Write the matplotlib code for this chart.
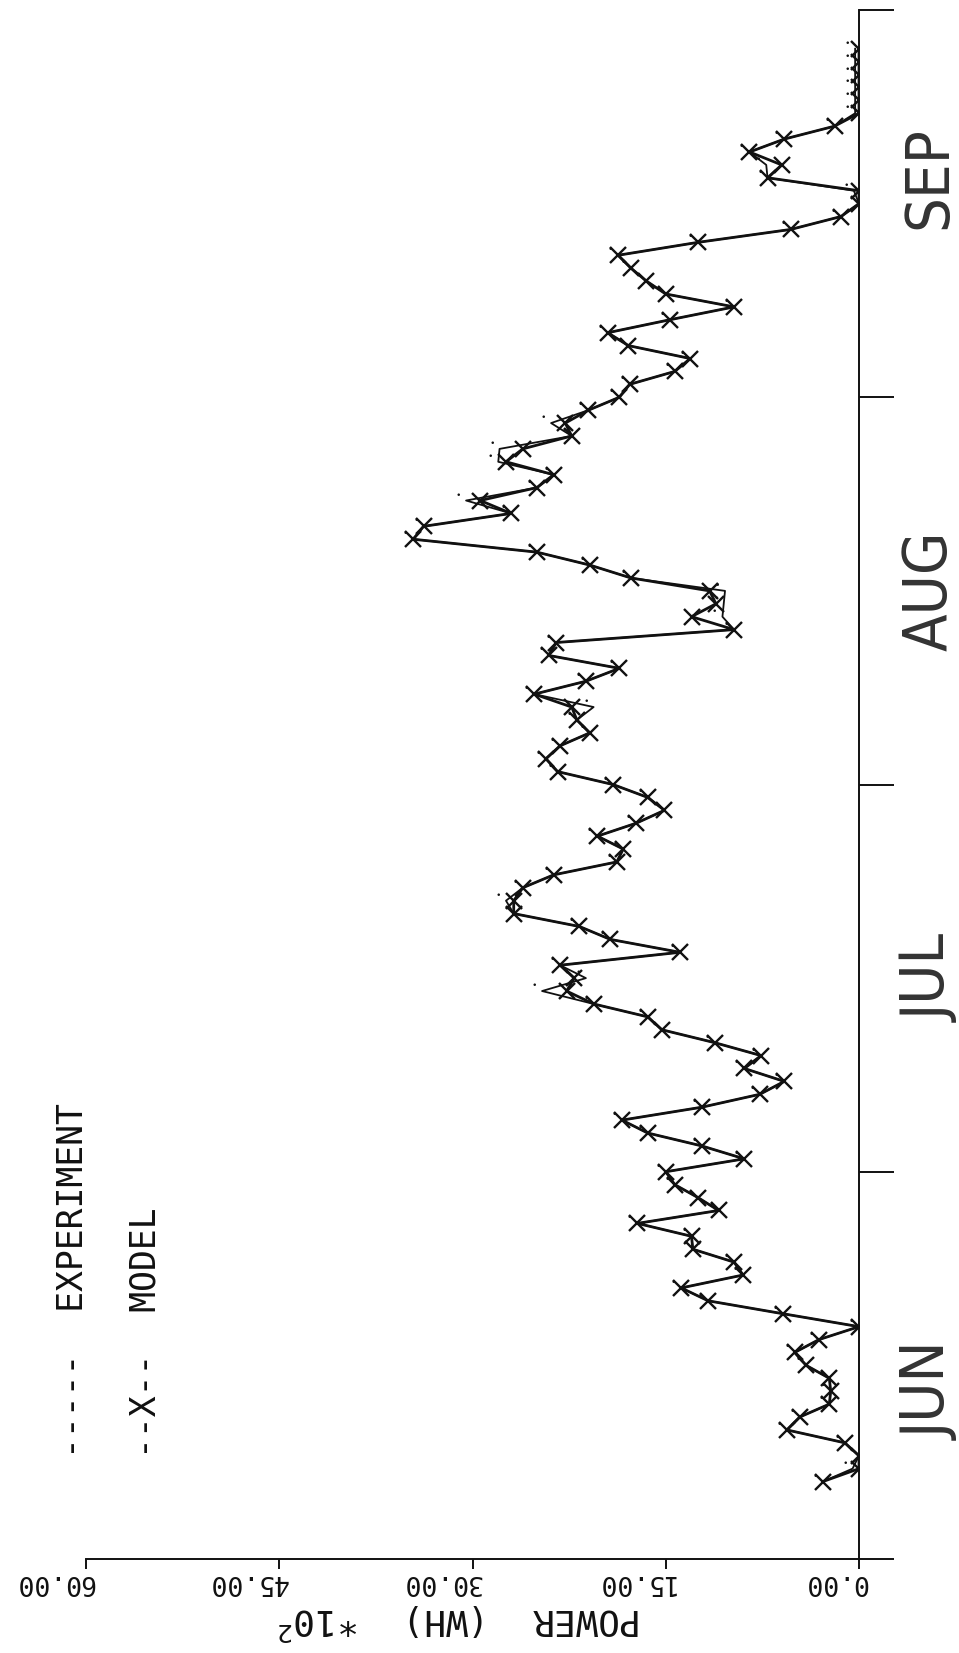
import matplotlib
matplotlib.use("Agg")
import matplotlib.pyplot as plt
import numpy as np
from matplotlib.path import Path
from matplotlib.transforms import blended_transform_factory

# daily power, day 0 = 1 June (30-day months on the time axis)
DAYS = np.arange(6, 118)

MODEL = [
    2.8, 0.0, 0.0, 1.1, 5.6, 4.6, 2.3, 2.2, 2.3, 4.1,
    5.0, 3.1, 0.0, 5.9, 11.7, 13.8, 9.0, 9.7, 12.9, 13.0,
    17.2, 10.9, 12.5, 14.3, 15.0, 8.9, 12.2, 16.4, 18.4, 12.2,
    7.7, 5.8, 8.9, 7.6, 11.2, 15.3, 16.4, 20.6, 22.7, 22.1,
    23.2, 13.9, 19.3, 21.7, 26.8, 26.8, 26.1, 23.7, 18.8, 18.3,
    20.3, 17.3, 15.1, 16.4, 19.1, 23.4, 24.3, 23.2, 20.9, 21.9,
    22.3, 25.2, 21.2, 18.6, 24.1, 23.5, 9.7, 13.0, 11.1, 11.6,
    17.7, 20.9, 25.0, 34.6, 33.8, 27.0, 29.4, 25.0, 23.7, 27.4,
    26.1, 22.3, 22.8, 21.0, 18.6, 17.8, 14.3, 13.1, 17.9, 19.5,
    14.7, 9.7, 15.0, 16.5, 17.7, 18.7, 12.5, 5.3, 1.4, 0.0,
    0.0, 7.1, 6.0, 8.5, 5.8, 1.9, 0.0, 0.0, 0.0, 0.0,
    0.0, 0.0,
]

EXPERIMENT = [
    2.8, 0.5, 0.0, 1.1, 5.6, 4.6, 2.3, 2.2, 2.3, 4.1,
    5.0, 3.1, 0.0, 5.9, 11.7, 13.8, 9.0, 9.7, 12.9, 13.0,
    17.2, 10.9, 12.5, 14.3, 15.0, 8.9, 12.2, 16.4, 18.4, 12.2,
    7.7, 5.8, 8.9, 7.6, 11.2, 15.3, 16.4, 20.6, 24.6, 21.2,
    23.2, 13.9, 19.3, 21.7, 26.8, 27.4, 26.1, 23.7, 18.8, 18.3,
    20.3, 17.3, 15.1, 16.4, 19.1, 23.4, 24.3, 23.2, 20.9, 21.9,
    20.6, 25.2, 21.2, 18.6, 24.1, 23.5, 9.7, 10.6, 10.5, 10.4,
    17.7, 20.9, 25.0, 34.6, 33.8, 27.0, 30.5, 25.0, 23.7, 28.0,
    27.9, 22.3, 23.9, 21.0, 18.6, 17.8, 14.3, 13.1, 17.9, 19.5,
    14.7, 9.7, 15.0, 16.5, 17.7, 18.7, 12.5, 5.3, 1.4, 0.0,
    0.4, 7.1, 7.2, 8.5, 5.8, 1.9, 0.3, 0.3, 0.3, 0.3,
    0.3, 0.3,
]

MONTHS = ["JUN", "JUL", "AUG", "SEP"]
MONTH_STARTS = [0, 30, 60, 90, 120]
POWER_TICKS = [0, 15, 30, 45, 60]

# where the month names sit along the time axis
MONTH_LABEL_AT = [13, 45, 75, 107]

INK = "#111111"
MONO = "DejaVu Sans Mono"

# small dot sitting up-left of each experiment point, like the plotter's "."
dot = Path.circle((-0.8, 0.7), 0.13)

fig = plt.figure(figsize=(9.59, 16.53), dpi=100)
ax = fig.add_axes([86 / 959, 94 / 1653, 773 / 959, 1549 / 1653])
ax.patch.set_alpha(0)

ax.plot(EXPERIMENT, DAYS, color=INK, lw=1.3, marker=dot, ms=13,
        mfc=INK, mec="none")
ax.plot(MODEL, DAYS, color=INK, lw=2.0, marker="x", ms=12, mew=1.7)

ax.set_xlim(60, 0)
ax.set_ylim(MONTH_STARTS[0], MONTH_STARTS[-1])

for side in ("top", "left"):
    ax.spines[side].set_visible(False)
for side in ("right", "bottom"):
    ax.spines[side].set_linewidth(1.4)
    ax.spines[side].set_color(INK)

ax.yaxis.tick_right()
ax.set_yticks(MONTH_STARTS)
ax.set_yticklabels([])
ax.tick_params(axis="y", direction="out", length=25, width=1.4, color=INK)

ax.set_xticks(POWER_TICKS)
ax.set_xticklabels([])
ax.tick_params(axis="x", direction="out", length=7, width=1.4, color=INK)

# power tick labels, written upside down
for v in POWER_TICKS:
    ax.annotate(f"{v:.2f}", xy=(v, 0), xycoords=("data", "axes fraction"),
                xytext=(6, -7), textcoords="offset points",
                rotation=180, ha="right", va="top",
                family=MONO, fontsize=19, color=INK)

ax.annotate("POWER  (WH)  *10$^2$", xy=(0.484, 0), xycoords="axes fraction",
            xytext=(0, -45), textcoords="offset points",
            rotation=180, ha="center", va="center",
            family=MONO, fontsize=26, color=INK)

# month names beside the time axis
month_tr = blended_transform_factory(ax.transAxes, ax.transData)
for name, at in zip(MONTHS, MONTH_LABEL_AT):
    ax.text(1.092, at, name, transform=month_tr, rotation=90,
            ha="center", va="center", family="DejaVu Sans",
            fontstretch="condensed", fontweight=200,
            fontsize=44, color="#333333", clip_on=False)

# key
fig.text(73 / 959, 1 - 1458 / 1653, "-----  EXPERIMENT", rotation=90,
         ha="center", va="bottom", family=MONO, fontsize=25, color=INK)
fig.text(146 / 959, 1 - 1458 / 1653, "--X--  MODEL", rotation=90,
         ha="center", va="bottom", family=MONO, fontsize=25, color=INK)

fig.savefig("out.png", dpi=100, facecolor="white")
